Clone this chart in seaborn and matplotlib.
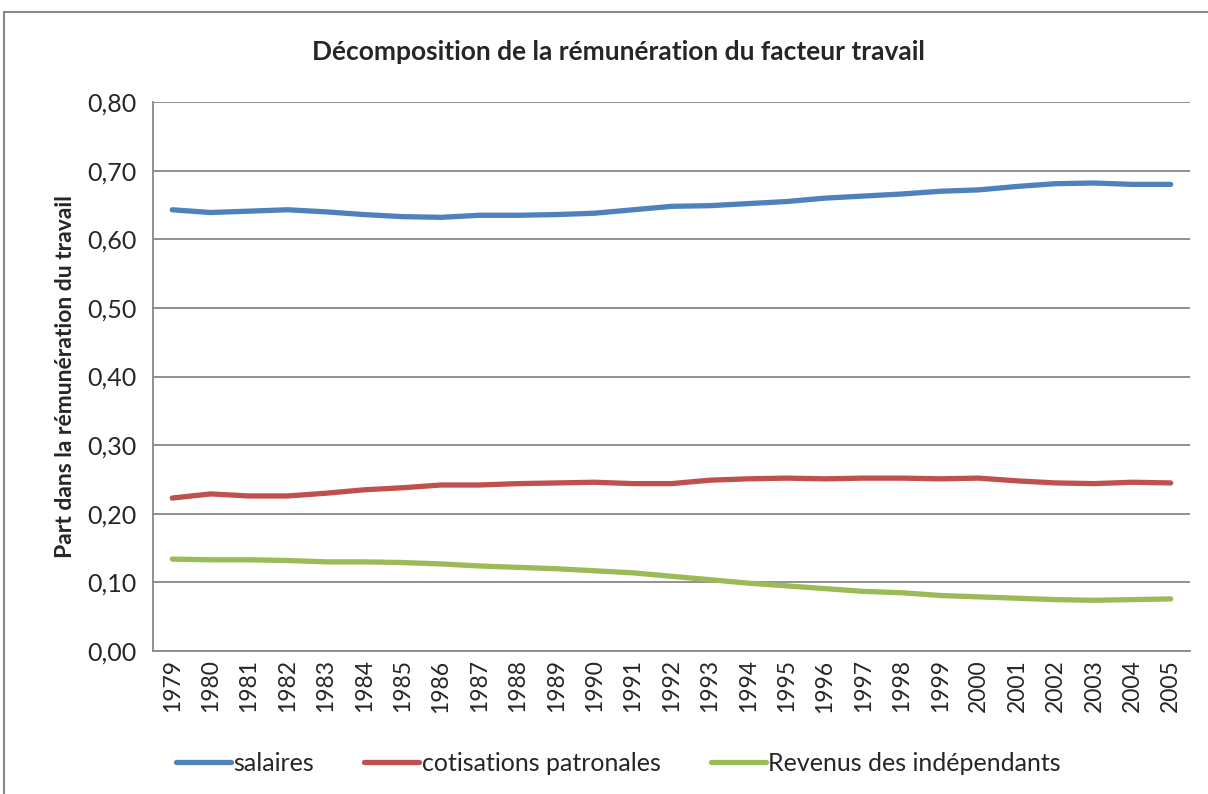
import matplotlib
matplotlib.use("Agg")
import matplotlib.pyplot as plt
import seaborn as sns
import pandas as pd
from matplotlib.patches import Rectangle
from matplotlib.ticker import FixedLocator, FuncFormatter

years = list(range(1979, 2006))
salaires = [0.643, 0.639, 0.641, 0.643, 0.640, 0.636, 0.633, 0.632, 0.635, 0.635,
            0.636, 0.638, 0.643, 0.648, 0.649, 0.652, 0.655, 0.660, 0.663, 0.666,
            0.670, 0.672, 0.677, 0.681, 0.682, 0.680, 0.680]
cotisations = [0.223, 0.229, 0.226, 0.226, 0.230, 0.235, 0.238, 0.242, 0.242, 0.244,
               0.245, 0.246, 0.244, 0.244, 0.249, 0.251, 0.252, 0.251, 0.252, 0.252,
               0.251, 0.252, 0.248, 0.245, 0.244, 0.246, 0.245]
independants = [0.134, 0.133, 0.133, 0.132, 0.130, 0.130, 0.129, 0.127, 0.124, 0.122,
                0.120, 0.117, 0.114, 0.109, 0.104, 0.099, 0.095, 0.091, 0.087, 0.085,
                0.081, 0.079, 0.077, 0.075, 0.074, 0.075, 0.076]
series_names = ["salaires", "cotisations patronales", "Revenus des indépendants"]
colors = ["#4F81BD", "#C0504D", "#9BBB59"]

df = pd.DataFrame({"annee": years * 3,
                   "part": salaires + cotisations + independants,
                   "serie": [series_names[0]] * 27 + [series_names[1]] * 27 + [series_names[2]] * 27})

sns.set_style("white")
plt.rcParams["font.family"] = ["Lato", "DejaVu Sans"]

fig = plt.figure(figsize=(12.08, 7.94), dpi=100)
ax = fig.add_axes([0.1267, 0.18, 0.985 - 0.1267, 0.8715 - 0.18])

sns.lineplot(data=df, x="annee", y="part", hue="serie", palette=colors,
             linewidth=3.8, ax=ax, legend=True, solid_capstyle="round")

ax.set_xlim(1978.5, 2005.5)
ax.set_ylim(0, 0.8)
ax.set_yticks([i / 10 for i in range(9)])
ax.yaxis.set_major_formatter(FuncFormatter(lambda v, p: f"{v:.2f}".replace(".", ",")))
ax.xaxis.set_major_locator(FixedLocator(years))
ax.set_xticklabels([str(y) for y in years], rotation=90)
ax.xaxis.set_minor_locator(FixedLocator([y + 0.5 for y in range(1978, 2006)]))
ax.tick_params(axis="x", which="major", length=0, labelsize=16.5, pad=6)
ax.tick_params(axis="x", which="minor", length=7, color="#888888", width=1.3)
ax.tick_params(axis="y", which="major", length=7, color="#888888", width=1.3, labelsize=18, pad=5)
ax.grid(axis="y", color="#888888", linewidth=1.3)
ax.set_axisbelow(True)
for s in ["top", "right"]:
    ax.spines[s].set_visible(False)
for s in ["left", "bottom"]:
    ax.spines[s].set_color("#888888")
    ax.spines[s].set_linewidth(1.3)

ax.set_xlabel("")
ax.set_ylabel("Part dans la rémunération du travail", fontsize=16.5, fontweight="bold", labelpad=8)
fig.text(0.512, 0.935, "Décomposition de la rémunération du facteur travail",
         ha="center", va="center", fontsize=19, fontweight="bold")

handles, labels = ax.get_legend_handles_labels()
ax.legend(handles, labels, loc="center", bbox_to_anchor=(0.512, 0.039), bbox_transform=fig.transFigure,
          ncol=3, frameon=False, fontsize=18, handlelength=2.2, handletextpad=0.1,
          columnspacing=2.0)

fig.add_artist(Rectangle((0.0035, -0.01), 1.1, 0.995, transform=fig.transFigure,
                         fill=False, edgecolor="#888888", linewidth=1.5))

fig.savefig("out.png", dpi=100)
